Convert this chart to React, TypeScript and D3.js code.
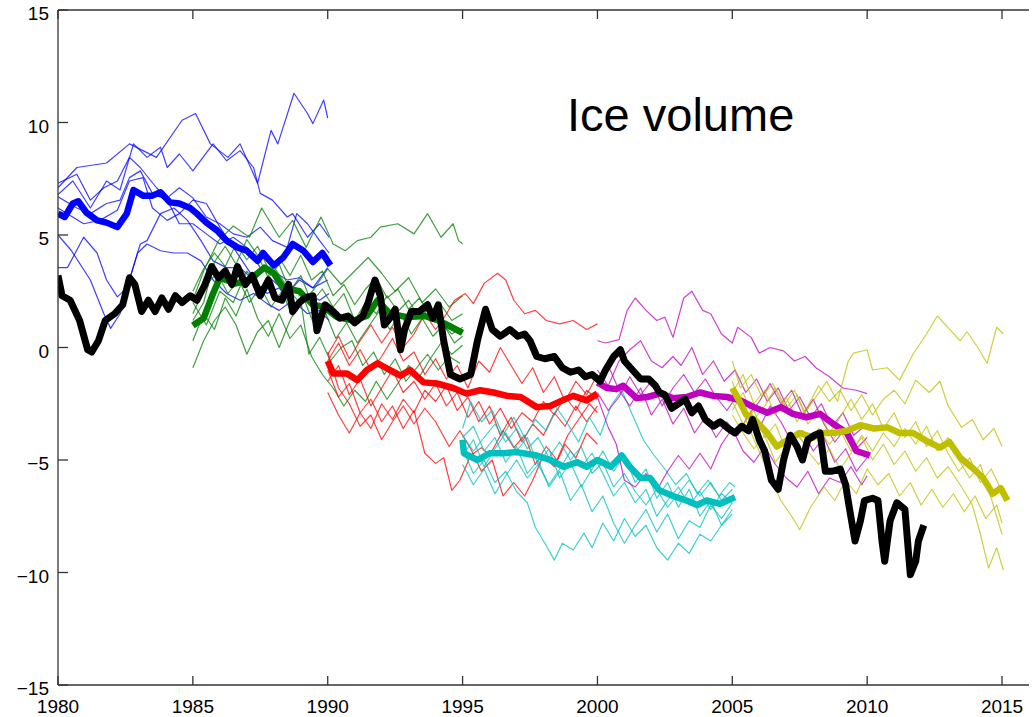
import React from "react";
import * as d3 from "d3";

type P = [number, number];

// ---------- observed / reference (black) ----------
const observed: P[] = [
  [1980.0, 3.2], [1980.15, 2.3], [1980.45, 2.1], [1980.8, 1.2], [1981.1, -0.1], [1981.25, -0.2],
  [1981.5, 0.3], [1981.75, 1.2], [1982.1, 1.5], [1982.4, 1.9], [1982.65, 3.1], [1982.85, 2.8],
  [1983.1, 1.6], [1983.35, 2.1], [1983.6, 1.6], [1983.85, 2.2], [1984.1, 1.7], [1984.35, 2.3],
  [1984.6, 2.0], [1984.9, 2.3], [1985.15, 2.1], [1985.45, 2.8], [1985.7, 3.6], [1985.95, 3.1],
  [1986.2, 3.4], [1986.45, 2.8], [1986.65, 3.6], [1986.95, 2.8], [1987.2, 3.2], [1987.5, 2.3],
  [1987.8, 3.0], [1988.05, 2.2], [1988.3, 2.1], [1988.55, 2.8], [1988.7, 1.6], [1988.95, 2.0],
  [1989.15, 2.2], [1989.45, 2.3], [1989.6, 0.75], [1989.9, 1.9], [1990.2, 1.6], [1990.45, 1.3],
  [1990.75, 1.4], [1991.0, 1.1], [1991.3, 1.4], [1991.5, 2.0], [1991.75, 3.0], [1991.95, 2.3],
  [1992.1, 1.0], [1992.3, 1.3], [1992.5, 1.7], [1992.7, -0.1], [1992.85, 0.8], [1993.1, 1.6],
  [1993.4, 1.6], [1993.7, 1.9], [1993.9, 1.3], [1994.1, 1.9], [1994.3, 0.3], [1994.55, -1.2],
  [1994.9, -1.4], [1995.3, -1.2], [1995.55, 0.3], [1995.85, 1.7], [1996.1, 0.8], [1996.4, 0.5],
  [1996.75, 0.8], [1997.05, 0.5], [1997.3, 0.6], [1997.5, 0.3], [1997.75, -0.4], [1998.05, -0.5],
  [1998.4, -0.4], [1998.7, -0.9], [1999.0, -1.1], [1999.3, -1.0], [1999.55, -1.3], [1999.8, -1.2],
  [2000.1, -1.5], [2000.3, -1.0], [2000.6, -0.4], [2000.85, -0.1], [2001.0, -0.6], [2001.3, -1.0],
  [2001.6, -1.4], [2001.9, -1.4], [2002.15, -1.7], [2002.3, -2.0], [2002.5, -2.1], [2002.75, -2.7],
  [2003.0, -2.5], [2003.25, -2.3], [2003.5, -2.9], [2003.75, -2.6], [2004.0, -3.2], [2004.3, -3.5],
  [2004.55, -3.3], [2004.85, -3.6], [2005.1, -3.8], [2005.35, -3.5], [2005.6, -3.7], [2005.75, -3.2],
  [2006.0, -4.1], [2006.2, -4.6], [2006.45, -5.9], [2006.7, -6.3], [2006.9, -5.0], [2007.15, -3.9],
  [2007.4, -4.4], [2007.6, -5.0], [2007.8, -4.1], [2008.05, -3.9], [2008.25, -3.8], [2008.45, -5.5],
  [2008.7, -5.5], [2009.0, -5.4], [2009.2, -6.1], [2009.35, -7.2], [2009.55, -8.6], [2009.75, -7.7],
  [2009.9, -6.8], [2010.2, -6.7], [2010.4, -6.8], [2010.55, -8.6], [2010.65, -9.5], [2010.85, -7.7],
  [2011.1, -6.9], [2011.4, -7.2], [2011.6, -10.1], [2011.8, -9.5], [2011.9, -8.6], [2012.1, -7.9],
];

// ---------- ensemble means (thick) ----------
const meanBlue: P[] = [
  [1980.0, 5.95], [1980.25, 5.8], [1980.55, 6.4], [1980.75, 6.5], [1981.05, 6.0], [1981.45, 5.65],
  [1981.8, 5.55], [1982.2, 5.35], [1982.55, 5.95], [1982.8, 7.0], [1983.15, 6.75], [1983.5, 6.75],
  [1983.8, 6.9], [1984.15, 6.45], [1984.5, 6.4], [1984.9, 6.2], [1985.15, 5.95], [1985.5, 5.55],
  [1985.9, 5.2], [1986.25, 4.75], [1986.65, 4.45], [1987.0, 4.3], [1987.4, 3.85], [1987.6, 4.2],
  [1988.0, 3.65], [1988.35, 4.0], [1988.7, 4.6], [1989.1, 4.3], [1989.45, 3.8], [1989.8, 4.2], [1990.1, 3.65],
];
const meanGreen: P[] = [
  [1985.0, 0.98], [1985.4, 1.3], [1985.75, 2.4], [1986.0, 3.1], [1986.6, 2.85], [1987.1, 3.0],
  [1987.65, 3.55], [1988.0, 3.3], [1988.35, 2.65], [1988.95, 2.5], [1989.45, 1.9], [1989.85, 1.8],
  [1990.35, 1.35], [1990.95, 1.2], [1991.45, 1.4], [1991.85, 2.1], [1992.3, 1.5], [1992.95, 1.35],
  [1993.6, 1.4], [1994.1, 1.2], [1994.6, 0.9], [1995.0, 0.65],
];
const meanRed: P[] = [
  [1990.0, -0.6], [1990.2, -1.15], [1990.7, -1.15], [1991.1, -1.45], [1991.45, -1.0], [1991.85, -0.7],
  [1992.3, -1.0], [1992.7, -1.25], [1993.05, -1.0], [1993.55, -1.55], [1994.05, -1.6], [1994.65, -1.8],
  [1995.15, -2.05], [1995.65, -1.9], [1996.15, -2.0], [1996.65, -2.15], [1997.15, -2.2], [1997.75, -2.65],
  [1998.25, -2.6], [1998.7, -2.35], [1999.1, -2.15], [1999.6, -2.35], [2000.0, -2.05],
];
const meanCyan: P[] = [
  [1995.0, -4.1], [1995.05, -4.7], [1995.55, -5.0], [1996.0, -4.7], [1996.5, -4.7], [1997.0, -4.65],
  [1997.75, -4.8], [1998.25, -5.0], [1998.75, -5.3], [1999.25, -5.1], [1999.6, -5.3], [2000.0, -5.0],
  [2000.5, -5.3], [2000.9, -4.8], [2001.2, -5.3], [2001.6, -5.8], [2001.95, -5.8], [2002.3, -6.35],
  [2002.8, -6.6], [2003.3, -6.8], [2003.7, -7.0], [2004.05, -6.8], [2004.55, -6.95], [2005.1, -6.65],
];
const meanMagenta: P[] = [
  [2000.0, -1.55], [2000.35, -1.8], [2000.7, -1.85], [2000.95, -1.7], [2001.45, -2.25], [2001.85, -2.2],
  [2002.3, -2.05], [2002.8, -2.25], [2003.3, -2.2], [2003.8, -2.0], [2004.3, -2.15], [2004.8, -2.2],
  [2005.3, -2.35], [2005.8, -2.65], [2006.3, -2.9], [2006.8, -2.65], [2007.25, -2.95], [2007.75, -3.1],
  [2008.25, -2.95], [2008.75, -3.4], [2009.25, -3.8], [2009.6, -4.6], [2010.1, -4.8],
];
const meanOlive: P[] = [
  [2005.0, -1.8], [2005.25, -2.35], [2005.5, -2.95], [2005.9, -3.3], [2006.3, -3.8], [2006.65, -4.4],
  [2007.0, -4.15], [2007.5, -3.8], [2008.0, -4.0], [2008.35, -3.8], [2008.75, -3.8], [2009.25, -3.7],
  [2009.75, -3.45], [2010.25, -3.6], [2010.75, -3.55], [2011.2, -3.8], [2011.7, -3.8], [2012.2, -4.15],
  [2012.7, -4.45], [2013.05, -4.2], [2013.45, -4.9], [2013.95, -5.4], [2014.3, -5.8], [2014.65, -6.5],
  [2014.95, -6.25], [2015.2, -6.8],
];

// ---------- ensemble members (thin) ----------
const membersBlue: P[][] = [
  [[1980.0, 7.1], [1980.7, 8.0], [1981.8, 8.2], [1982.65, 9.05], [1983.65, 8.45], [1984.6, 10.1], [1985.1, 10.4],
   [1985.65, 9.05], [1986.3, 8.45], [1986.75, 9.05], [1987.4, 7.3], [1987.9, 9.65], [1988.15, 9.05],
   [1988.75, 11.3], [1989.25, 10.4], [1989.45, 9.95], [1989.85, 11.0], [1990.0, 10.2]],
  [[1980.0, 6.8], [1980.55, 7.4], [1981.2, 6.2], [1981.8, 7.4], [1982.3, 7.0], [1982.8, 9.05], [1983.3, 8.45],
   [1983.8, 8.9], [1984.05, 8.0], [1984.5, 8.6], [1985.0, 7.85], [1985.75, 9.05], [1986.25, 8.3],
   [1986.75, 8.75], [1987.25, 8.0], [1987.5, 6.85], [1987.95, 6.55], [1988.5, 5.8], [1988.7, 5.95],
   [1989.25, 4.9], [1989.7, 5.5], [1990.05, 4.9]],
  [[1980.0, 6.7], [1980.7, 6.2], [1981.2, 5.95], [1981.8, 6.4], [1982.3, 6.55], [1982.65, 7.55], [1983.05, 7.85],
   [1983.5, 6.85], [1984.05, 6.55], [1984.5, 5.5], [1985.0, 5.5], [1985.5, 5.05], [1986.0, 4.6],
   [1986.5, 4.9], [1987.0, 4.45], [1987.5, 3.55], [1987.95, 3.4], [1988.5, 3.0], [1988.95, 3.1],
   [1989.45, 2.65], [1990.0, 3.0]],
  [[1980.0, 3.55], [1980.35, 3.55], [1980.95, 4.9], [1981.45, 4.2], [1981.8, 3.0], [1982.2, 2.25], [1982.55, 2.65],
   [1982.95, 4.2], [1983.3, 4.6], [1983.8, 4.3], [1984.3, 4.2], [1984.8, 4.2], [1985.3, 3.85],
   [1985.75, 3.0], [1986.25, 2.4], [1986.75, 2.1], [1987.25, 2.4], [1987.75, 1.95], [1988.2, 1.65],
   [1988.7, 2.1], [1989.25, 1.5], [1989.7, 1.65], [1990.05, 1.2]],
  [[1980.0, 5.0], [1980.5, 4.3], [1981.2, 3.0], [1981.7, 1.5], [1981.95, 0.85], [1982.3, 1.5], [1982.65, 3.0],
   [1983.05, 4.6], [1983.3, 4.75], [1983.8, 5.95], [1984.3, 6.2], [1984.8, 5.65], [1985.3, 4.75],
   [1985.75, 3.85], [1986.25, 3.55], [1986.75, 3.55], [1987.25, 3.0], [1987.75, 2.4], [1988.2, 2.65],
   [1988.7, 1.8], [1989.25, 2.4], [1989.7, 2.1], [1990.05, 2.4]],
  [[1980.0, 7.3], [1980.7, 7.7], [1981.2, 6.55], [1981.7, 7.1], [1982.2, 7.4], [1982.65, 8.45], [1983.05, 8.0],
   [1983.65, 7.1], [1984.05, 6.65], [1984.5, 7.1], [1985.0, 6.65], [1985.5, 5.8], [1986.0, 5.5],
   [1986.5, 5.05], [1987.0, 4.9], [1987.5, 5.35], [1987.95, 4.75], [1988.5, 4.45], [1988.85, 5.95],
   [1989.25, 5.5], [1989.7, 4.75], [1990.05, 4.2]],
  [[1980.0, 6.2], [1980.95, 5.5], [1981.55, 5.65], [1982.2, 6.1], [1982.65, 7.4], [1983.15, 7.55], [1983.5, 6.2],
   [1984.05, 5.65], [1984.5, 5.95], [1985.0, 6.55], [1985.5, 6.4], [1986.0, 5.35], [1986.5, 4.45],
   [1987.0, 3.55], [1987.5, 2.65], [1987.95, 3.0], [1988.5, 2.4], [1988.95, 3.0], [1989.45, 2.65], [1990.0, 3.55]],
];
const membersGreen: P[][] = [
  [[1985.0, 2.1], [1985.4, 3.4], [1985.95, 4.75], [1986.5, 5.4], [1987.1, 4.9], [1987.55, 6.2], [1988.2, 4.9],
   [1988.7, 5.65], [1989.2, 4.45], [1989.75, 5.8], [1990.2, 4.6], [1990.65, 4.3], [1991.1, 4.75],
   [1991.6, 4.9], [1991.95, 5.35], [1992.6, 5.5], [1993.2, 5.05], [1993.7, 5.95], [1994.2, 4.9],
   [1994.65, 5.5], [1994.85, 4.75], [1995.0, 4.6]],
  [[1985.0, 2.5], [1985.4, 3.5], [1985.8, 4.2], [1986.2, 3.6], [1986.6, 4.6], [1987.0, 3.9], [1987.4, 4.5],
   [1987.8, 3.5], [1988.2, 4.0], [1988.6, 3.2], [1989.0, 4.1], [1989.4, 3.0], [1989.8, 3.4], [1990.2, 2.3],
   [1990.6, 2.8], [1991.0, 1.9], [1991.4, 2.6], [1991.8, 3.1], [1992.2, 2.2], [1992.6, 2.6], [1993.0, 1.7],
   [1993.4, 2.2], [1993.8, 1.4], [1994.2, 1.9], [1994.6, 1.2], [1995.0, 1.5]],
  [[1985.0, 1.5], [1985.5, 2.8], [1985.9, 3.3], [1986.3, 2.4], [1986.7, 3.0], [1987.1, 2.0], [1987.5, 2.7],
   [1987.9, 1.8], [1988.3, 2.5], [1988.7, 1.4], [1989.1, 2.2], [1989.5, 1.0], [1989.9, 1.6], [1990.3, 0.4],
   [1990.7, 1.1], [1991.1, 0.2], [1991.5, 0.9], [1991.9, 1.6], [1992.3, 0.8], [1992.7, 1.5], [1993.1, 0.6],
   [1993.5, 1.3], [1993.9, 0.5], [1994.3, 1.0], [1994.7, 0.2], [1995.0, 0.5]],
  [[1985.0, -0.9], [1985.4, 0.3], [1985.8, 1.2], [1986.2, 1.8], [1986.6, 1.0], [1987.0, -0.3], [1987.4, 0.7],
   [1987.8, 1.2], [1988.2, 0.0], [1988.6, 1.2], [1989.0, 2.1], [1989.3, -0.3], [1989.7, 0.45], [1990.1, -0.6],
   [1990.5, 0.0], [1990.9, 0.3], [1991.3, -0.8], [1991.7, -0.2], [1992.1, -1.2], [1992.5, -0.5], [1992.9, -1.5],
   [1993.3, -0.9], [1993.7, -0.3], [1994.1, -1.0], [1994.5, -0.4], [1994.9, -0.7]],
  [[1985.0, 0.3], [1985.4, 1.5], [1985.8, 0.8], [1986.2, 2.2], [1986.6, 1.4], [1987.0, 2.6], [1987.4, 1.3],
   [1987.8, 0.5], [1988.2, 1.5], [1988.6, 0.4], [1989.0, 1.0], [1989.4, -0.4], [1989.8, -1.2], [1990.2, -1.8],
   [1990.6, -2.6], [1991.0, -1.9], [1991.4, -2.4], [1991.8, -1.5], [1992.2, -2.3], [1992.6, -1.6], [1993.0, -0.8],
   [1993.4, -1.3], [1993.8, -0.5], [1994.2, 0.2], [1994.6, -0.3], [1995.0, 0.1]],
  [[1985.0, 1.2], [1985.4, 2.0], [1985.8, 3.8], [1986.2, 4.5], [1986.6, 3.7], [1987.0, 4.8], [1987.4, 4.1],
   [1987.8, 3.1], [1988.2, 3.7], [1988.6, 2.5], [1989.0, 3.2], [1989.4, 2.0], [1989.8, 2.6], [1990.2, 1.8],
   [1990.6, 2.4], [1991.0, 1.2], [1991.4, 2.0], [1991.8, 1.5], [1992.2, 2.3], [1992.6, 1.6], [1993.0, 2.1],
   [1993.4, 1.3], [1993.8, 1.8], [1994.2, 1.1], [1994.6, 0.6], [1995.0, 0.9]],
  [[1985.0, 2.0], [1985.5, 1.0], [1986.0, 2.5], [1986.5, 2.0], [1987.0, 3.4], [1987.5, 2.6], [1988.0, 3.6],
   [1988.5, 2.7], [1989.0, 1.9], [1989.5, 2.6], [1990.0, 3.5], [1990.5, 2.8], [1991.0, 3.4], [1991.5, 4.0],
   [1992.0, 3.3], [1992.5, 2.5], [1993.0, 3.1], [1993.5, 2.0], [1994.0, 2.6], [1994.5, 1.8], [1995.0, 2.3]],
];
const membersRed: P[][] = [
  [[1990.0, -0.3], [1990.4, 0.5], [1990.8, -0.5], [1991.2, 0.3], [1991.6, 1.0], [1992.0, 0.2], [1992.4, 0.9],
   [1992.8, 0.0], [1993.2, 0.6], [1993.6, 1.5], [1994.0, 0.8], [1994.3, 1.3], [1994.7, 2.1], [1995.1, 2.4],
   [1995.4, 1.95], [1995.8, 2.85], [1996.3, 3.3], [1996.6, 3.0], [1996.9, 2.1], [1997.3, 1.5], [1997.7, 1.65],
   [1998.1, 1.2], [1998.6, 1.05], [1999.1, 1.2], [1999.6, 0.8], [2000.0, 1.05]],
  [[1990.0, -1.0], [1990.4, -2.2], [1990.8, -1.6], [1991.2, -2.9], [1991.6, -2.3], [1992.0, -3.3], [1992.4, -2.6],
   [1992.8, -3.6], [1993.2, -2.8], [1993.6, -4.7], [1994.0, -5.15], [1994.3, -4.9], [1994.6, -6.35],
   [1994.9, -5.9], [1995.3, -4.8], [1995.7, -4.45], [1996.0, -4.8], [1996.5, -3.7], [1996.9, -4.45],
   [1997.3, -3.9], [1997.7, -5.2], [1998.1, -4.4], [1998.5, -5.0], [1998.9, -3.9], [1999.3, -3.2],
   [1999.7, -2.5], [2000.0, -2.9]],
  [[1990.0, -0.2], [1990.4, -1.8], [1990.8, -2.5], [1991.2, -3.5], [1991.6, -3.0], [1992.0, -4.1], [1992.4, -3.3],
   [1992.8, -2.6], [1993.2, -3.4], [1993.6, -2.7], [1994.0, -3.3], [1994.5, -4.4], [1994.9, -3.7], [1995.3, -4.5],
   [1995.7, -5.5], [1996.1, -5.0], [1996.5, -6.6], [1996.9, -6.0], [1997.3, -6.6], [1997.6, -5.9], [1998.0, -4.8],
   [1998.4, -5.3], [1998.8, -4.3], [1999.2, -4.9], [1999.6, -3.8], [2000.0, -4.3]],
  [[1990.0, -0.6], [1990.4, 0.2], [1990.8, -0.8], [1991.2, -0.1], [1991.6, -1.0], [1992.0, -0.4], [1992.4, 0.4],
   [1992.8, -0.6], [1993.2, -0.2], [1993.6, -1.2], [1994.0, -0.5], [1994.4, -1.4], [1994.8, -0.8], [1995.2, -1.8],
   [1995.6, -0.6], [1996.0, -1.1], [1996.4, 0.0], [1996.8, -0.8], [1997.2, -1.6], [1997.6, -0.9], [1998.0, -2.0],
   [1998.4, -1.3], [1998.8, -2.4], [1999.2, -1.5], [1999.6, -2.1], [2000.0, -1.2]],
  [[1990.0, -1.5], [1990.4, -0.8], [1990.8, -2.1], [1991.2, -1.4], [1991.6, -2.6], [1992.0, -1.8], [1992.4, -1.0],
   [1992.8, -2.0], [1993.2, -1.5], [1993.6, -2.3], [1994.0, -1.6], [1994.4, -2.6], [1994.8, -2.0], [1995.2, -3.1],
   [1995.6, -2.4], [1996.0, -3.4], [1996.4, -2.7], [1996.8, -3.6], [1997.2, -2.9], [1997.6, -3.3], [1998.0, -2.4],
   [1998.4, -3.0], [1998.8, -2.2], [1999.2, -2.8], [1999.6, -1.9], [2000.0, -2.3]],
  [[1990.0, -2.0], [1990.4, -3.0], [1990.8, -3.8], [1991.2, -2.9], [1991.6, -3.6], [1992.0, -2.5], [1992.4, -3.2],
   [1992.8, -2.3], [1993.2, -2.9], [1993.6, -1.9], [1994.0, -2.4], [1994.4, -1.7], [1994.8, -2.8], [1995.2, -2.2],
   [1995.6, -3.3], [1996.0, -2.6], [1996.4, -3.9], [1996.8, -3.1], [1997.2, -4.2], [1997.6, -3.4], [1998.0, -3.9],
   [1998.4, -2.9], [1998.8, -3.5], [1999.2, -2.6], [1999.6, -3.3], [2000.0, -2.6]],
];
const membersCyan: P[][] = [
  [[1995.0, -4.5], [1995.4, -5.6], [1995.8, -5.0], [1996.2, -6.0], [1996.6, -5.5], [1997.0, -6.4], [1997.4, -6.9],
   [1997.7, -8.0], [1998.1, -8.8], [1998.4, -9.45], [1998.7, -8.7], [1999.1, -9.0], [1999.5, -8.25], [1999.8, -8.9],
   [2000.2, -7.8], [2000.6, -8.6], [2001.0, -7.6], [2001.4, -8.4], [2001.8, -7.9], [2002.2, -8.9], [2002.6, -9.45],
   [2003.0, -8.7], [2003.4, -9.15], [2003.8, -8.3], [2004.2, -8.6], [2004.6, -7.9], [2005.0, -7.4]],
  [[1995.0, -4.0], [1995.4, -3.5], [1995.8, -4.6], [1996.2, -4.0], [1996.6, -5.1], [1997.0, -4.4], [1997.4, -5.6],
   [1997.8, -5.0], [1998.2, -6.2], [1998.6, -5.5], [1999.0, -6.8], [1999.4, -6.1], [1999.8, -7.3], [2000.2, -6.6],
   [2000.6, -7.8], [2001.0, -8.7], [2001.4, -7.9], [2001.8, -7.2], [2002.2, -8.2], [2002.6, -7.4], [2003.0, -8.5],
   [2003.4, -7.7], [2003.8, -8.0], [2004.2, -7.0], [2004.6, -7.6], [2005.0, -6.9]],
  [[1995.0, -3.6], [1995.3, -2.4], [1995.7, -3.3], [1996.1, -2.8], [1996.5, -3.9], [1996.9, -3.1], [1997.3, -4.0],
   [1997.7, -3.2], [1998.1, -3.7], [1998.5, -2.7], [1998.9, -3.4], [1999.3, -4.2], [1999.7, -3.1], [2000.1, -3.9],
   [2000.5, -2.6], [2000.9, -1.9], [2001.3, -3.0], [2001.7, -4.1], [2002.1, -4.8], [2002.5, -5.4], [2002.9, -6.1],
   [2003.3, -5.6], [2003.7, -6.5], [2004.1, -5.9], [2004.5, -6.6], [2004.9, -6.0], [2005.1, -6.2]],
  [[1995.0, -4.8], [1995.4, -4.1], [1995.8, -5.3], [1996.2, -4.5], [1996.6, -3.8], [1997.0, -4.6], [1997.4, -4.0],
   [1997.8, -5.2], [1998.2, -4.5], [1998.6, -5.8], [1999.0, -5.1], [1999.4, -6.2], [1999.8, -5.4], [2000.2, -4.6],
   [2000.6, -5.5], [2001.0, -4.8], [2001.4, -6.0], [2001.8, -5.4], [2002.2, -6.7], [2002.6, -6.0], [2003.0, -7.1],
   [2003.4, -6.3], [2003.8, -7.5], [2004.2, -6.8], [2004.6, -7.9], [2005.0, -7.2]],
  [[1995.0, -5.2], [1995.4, -6.1], [1995.8, -5.4], [1996.2, -6.5], [1996.6, -5.7], [1997.0, -5.0], [1997.4, -5.8],
   [1997.8, -5.2], [1998.2, -6.1], [1998.6, -5.4], [1999.0, -4.6], [1999.4, -5.3], [1999.8, -4.7], [2000.2, -5.6],
   [2000.6, -6.6], [2001.0, -6.0], [2001.4, -6.9], [2001.8, -6.3], [2002.2, -7.5], [2002.6, -6.8], [2003.0, -6.2],
   [2003.4, -7.0], [2003.8, -6.4], [2004.2, -7.2], [2004.6, -6.5], [2005.0, -6.9]],
  [[1995.0, -3.9], [1995.4, -4.6], [1995.8, -4.0], [1996.2, -3.4], [1996.6, -4.2], [1997.0, -3.6], [1997.4, -4.5],
   [1997.8, -4.0], [1998.2, -4.9], [1998.6, -4.2], [1999.0, -5.0], [1999.4, -4.4], [1999.8, -5.6], [2000.2, -5.1],
   [2000.6, -6.2], [2001.0, -5.6], [2001.4, -6.4], [2001.8, -7.0], [2002.2, -6.3], [2002.6, -7.1], [2003.0, -6.5],
   [2003.4, -5.9], [2003.8, -6.6], [2004.2, -6.0], [2004.6, -6.8], [2005.0, -6.3]],
];
const membersMagenta: P[][] = [
  [[2000.0, 0.3], [2000.3, 0.2], [2000.8, 0.35], [2001.1, 1.65], [2001.4, 2.2], [2001.8, 1.65], [2002.2, 1.2],
   [2002.5, 1.35], [2002.8, 0.45], [2003.2, 2.2], [2003.5, 2.5], [2003.9, 1.65], [2004.2, 1.5], [2004.6, 0.6],
   [2005.0, 0.2], [2005.2, 0.9], [2005.7, 0.45], [2006.0, -0.25], [2006.4, 0.0], [2006.9, -0.15], [2007.3, -0.6],
   [2007.7, -0.4], [2008.1, -0.9], [2008.6, -1.3], [2009.1, -1.8], [2009.6, -1.9], [2010.0, -2.05]],
  [[2000.0, -1.0], [2000.4, -1.7], [2000.8, -0.6], [2001.2, -0.1], [2001.6, 0.3], [2002.0, -0.6], [2002.4, -0.9],
   [2002.8, -0.4], [2003.1, -0.8], [2003.5, 0.0], [2003.9, -1.2], [2004.3, -0.6], [2004.7, -1.5], [2005.1, -1.0],
   [2005.5, -2.0], [2005.9, -1.4], [2006.3, -2.4], [2006.7, -1.8], [2007.1, -2.8], [2007.5, -2.2], [2007.9, -3.1],
   [2008.3, -2.5], [2008.7, -3.5], [2009.1, -2.9], [2009.5, -3.9], [2010.0, -3.4]],
  [[2000.0, -2.2], [2000.4, -3.55], [2000.7, -4.3], [2001.0, -5.9], [2001.4, -6.2], [2001.8, -5.6], [2002.2, -6.35],
   [2002.6, -5.5], [2003.0, -4.8], [2003.4, -5.4], [2003.8, -4.7], [2004.2, -5.4], [2004.6, -4.3], [2005.0, -3.6],
   [2005.4, -4.6], [2005.8, -5.1], [2006.2, -4.4], [2006.6, -5.2], [2007.0, -5.8], [2007.4, -6.2], [2007.8, -5.5],
   [2008.2, -6.5], [2008.6, -5.8], [2009.0, -6.0], [2009.4, -5.3], [2009.8, -6.1], [2010.0, -5.7]],
  [[2000.0, -1.5], [2000.4, -0.8], [2000.8, -1.9], [2001.2, -2.6], [2001.6, -1.8], [2002.0, -3.0], [2002.4, -2.3],
   [2002.8, -3.4], [2003.2, -2.7], [2003.6, -3.8], [2004.0, -3.1], [2004.4, -4.0], [2004.8, -3.3], [2005.2, -3.9],
   [2005.6, -3.0], [2006.0, -3.6], [2006.4, -2.6], [2006.8, -3.3], [2007.2, -4.2], [2007.6, -3.7], [2008.0, -4.6],
   [2008.4, -4.0], [2008.8, -5.1], [2009.2, -4.5], [2009.6, -5.5], [2010.0, -4.9]],
  [[2000.0, -2.0], [2000.4, -2.8], [2000.8, -2.2], [2001.2, -1.3], [2001.6, -2.1], [2002.0, -1.5], [2002.4, -2.6],
   [2002.8, -1.8], [2003.2, -1.2], [2003.6, -2.0], [2004.0, -1.4], [2004.4, -2.2], [2004.8, -2.8], [2005.2, -2.1],
   [2005.6, -3.0], [2006.0, -2.4], [2006.4, -1.6], [2006.8, -2.5], [2007.2, -1.9], [2007.6, -3.0], [2008.0, -2.3],
   [2008.4, -3.4], [2008.8, -4.2], [2009.2, -3.6], [2009.6, -4.5], [2010.0, -4.0]],
];
const membersOlive: P[][] = [
  [[2005.0, -0.6], [2005.3, -1.8], [2005.7, -1.2], [2006.1, -2.2], [2006.5, -1.6], [2006.9, -2.6], [2007.3, -1.9],
   [2007.7, -2.9], [2008.1, -2.2], [2008.5, -1.5], [2008.9, -2.4], [2009.3, -0.6], [2009.5, -0.25], [2010.0, -0.1],
   [2010.2, -1.0], [2010.75, -0.9], [2011.2, -1.45], [2011.7, -0.3], [2012.2, 0.6], [2012.6, 1.4], [2013.1, 0.75],
   [2013.45, 0.3], [2013.7, 0.7], [2014.1, 0.0], [2014.45, -0.7], [2014.8, 0.9], [2015.05, 0.6]],
  [[2005.0, -2.0], [2005.4, -1.2], [2005.8, -2.5], [2006.2, -1.9], [2006.6, -3.0], [2007.0, -2.2], [2007.4, -3.3],
   [2007.8, -2.6], [2008.2, -1.7], [2008.6, -2.4], [2009.0, -1.9], [2009.4, -2.8], [2009.8, -2.1], [2010.2, -3.0],
   [2010.6, -2.3], [2011.0, -1.9], [2011.4, -2.5], [2011.8, -1.45], [2012.3, -2.0], [2012.7, -1.5], [2013.0, -2.6],
   [2013.5, -3.55], [2013.9, -3.2], [2014.3, -4.1], [2014.7, -3.6], [2015.0, -4.4]],
  [[2005.0, -2.4], [2005.4, -3.4], [2005.8, -2.8], [2006.2, -4.0], [2006.6, -3.4], [2007.0, -4.6], [2007.4, -3.9],
   [2007.8, -4.4], [2008.2, -3.6], [2008.6, -4.3], [2009.0, -3.7], [2009.4, -4.6], [2009.8, -4.0], [2010.2, -5.0],
   [2010.6, -4.3], [2011.0, -5.2], [2011.4, -4.6], [2011.8, -5.5], [2012.2, -4.9], [2012.6, -5.8], [2013.0, -5.3],
   [2013.5, -6.2], [2013.9, -7.0], [2014.2, -8.3], [2014.5, -9.8], [2014.8, -8.9], [2015.05, -9.9]],
  [[2005.0, -1.5], [2005.3, -2.6], [2005.7, -3.8], [2006.1, -4.9], [2006.5, -6.0], [2006.8, -6.8], [2007.2, -7.5],
   [2007.5, -8.1], [2007.9, -7.1], [2008.4, -6.2], [2008.8, -6.8], [2009.2, -5.9], [2009.6, -6.5], [2010.0, -5.4],
   [2010.4, -6.1], [2010.8, -5.6], [2011.2, -6.6], [2011.6, -6.0], [2012.0, -7.0], [2012.4, -6.3], [2012.8, -7.1],
   [2013.2, -6.5], [2013.6, -7.3], [2014.0, -6.6], [2014.4, -7.6], [2014.8, -7.0], [2015.0, -7.8]],
  [[2005.0, -2.8], [2005.4, -2.0], [2005.8, -3.2], [2006.2, -2.6], [2006.6, -1.8], [2007.0, -2.7], [2007.4, -2.1],
   [2007.8, -3.4], [2008.2, -2.8], [2008.6, -3.8], [2009.0, -3.1], [2009.4, -2.3], [2009.8, -3.2], [2010.2, -2.5],
   [2010.6, -3.6], [2011.0, -2.9], [2011.4, -4.0], [2011.8, -3.3], [2012.2, -4.4], [2012.6, -3.7], [2013.0, -4.7],
   [2013.4, -5.5], [2013.8, -4.9], [2014.2, -6.0], [2014.6, -5.4], [2015.0, -6.4]],
  [[2005.0, -3.0], [2005.4, -3.8], [2005.8, -4.5], [2006.2, -3.9], [2006.6, -5.1], [2007.0, -4.4], [2007.4, -3.7],
   [2007.8, -4.6], [2008.2, -5.2], [2008.6, -4.5], [2009.0, -5.4], [2009.4, -4.7], [2009.8, -3.9], [2010.2, -4.6],
   [2010.6, -3.8], [2011.0, -4.4], [2011.4, -3.6], [2011.8, -4.3], [2012.2, -3.5], [2012.6, -4.6], [2013.0, -4.0],
   [2013.4, -5.0], [2013.8, -5.8], [2014.2, -5.2], [2014.6, -6.7], [2015.0, -8.3]],
];

const xTicks = [1980, 1985, 1990, 1995, 2000, 2005, 2010, 2015];
const yTicks = [-15, -10, -5, 0, 5, 10, 15];
const titleText = "Ice volume";

const ensembles = [
  { color: "#0000ff", members: membersBlue, mean: meanBlue },
  { color: "#008000", members: membersGreen, mean: meanGreen },
  { color: "#ff0000", members: membersRed, mean: meanRed },
  { color: "#00bfbf", members: membersCyan, mean: meanCyan },
  { color: "#bf00bf", members: membersMagenta, mean: meanMagenta },
  { color: "#bfbf00", members: membersOlive, mean: meanOlive },
];

const W = 1034;
const H = 717;
const left = 58, right = 1029, top = 10, bottom = 685;

export default function App() {
  const x = d3.scaleLinear().domain([1980, 2016]).range([left, right]);
  const y = d3.scaleLinear().domain([-15, 15]).range([bottom, top]);
  const line = d3.line<P>().x((d) => x(d[0])).y((d) => y(d[1]));
  const font = "'Liberation Sans', Arial, Helvetica, sans-serif";

  return (
    <svg width={W} height={H} style={{ position: "absolute", left: 0, top: 0, background: "#fff" }}>
      <rect x={0} y={0} width={W} height={H} fill="#fff" />
      <defs>
        <clipPath id="plot">
          <rect x={left} y={top} width={right - left} height={bottom - top} />
        </clipPath>
      </defs>
      <g clipPath="url(#plot)">
        {ensembles.map((e, i) =>
          e.members.map((m, j) => (
            <path key={`m${i}-${j}`} d={line(m) || ""} fill="none" stroke={e.color}
              strokeWidth={1.2} strokeOpacity={0.75} strokeLinejoin="round" />
          ))
        )}
        {ensembles.map((e, i) => (
          <path key={`mean${i}`} d={line(e.mean) || ""} fill="none" stroke={e.color}
            strokeWidth={6.5} strokeLinejoin="round" strokeLinecap="butt" />
        ))}
        <path d={line(observed) || ""} fill="none" stroke="#000" strokeWidth={7} strokeLinejoin="round" />
      </g>
      {/* axes box (top, left, bottom) */}
      <line x1={left} y1={top} x2={right} y2={top} stroke="#333" strokeWidth={1.3} />
      <line x1={left} y1={top} x2={left} y2={bottom} stroke="#333" strokeWidth={1.3} />
      <line x1={left} y1={bottom} x2={right} y2={bottom} stroke="#333" strokeWidth={1.3} />
      {xTicks.map((t) => (
        <g key={`xt${t}`}>
          <line x1={x(t)} x2={x(t)} y1={bottom} y2={bottom - 9} stroke="#333" strokeWidth={1.3} />
          <line x1={x(t)} x2={x(t)} y1={top} y2={top + 9} stroke="#333" strokeWidth={1.3} />
          <text x={x(t)} y={713} textAnchor="middle" fontFamily={font} fontSize={19} fill="#000">{t}</text>
        </g>
      ))}
      {yTicks.map((t) => (
        <g key={`yt${t}`}>
          <line x1={left} x2={left + 10} y1={y(t)} y2={y(t)} stroke="#333" strokeWidth={1.3} />
          <text x={49} y={y(t) + 10} textAnchor="end" fontFamily={font} fontSize={19} fill="#000">
            {t < 0 ? `\u2212${Math.abs(t)}` : t}
          </text>
        </g>
      ))}
      <text x={567} y={131} fontFamily={font} fontSize={47} fill="#000">{titleText}</text>
    </svg>
  );
}
